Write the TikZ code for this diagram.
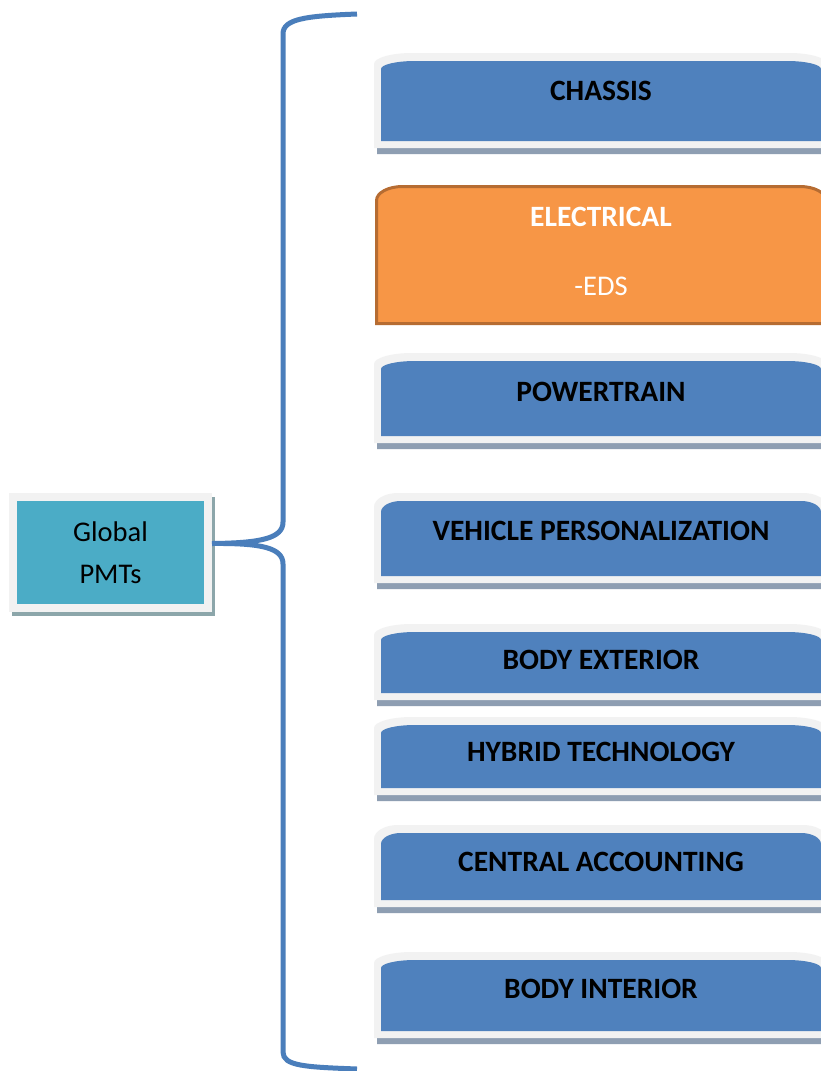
\documentclass[tikz,border=0pt]{standalone}
\usepackage{fontspec}
\setmainfont{Carlito}
\usepackage{tikz}
\usetikzlibrary{backgrounds}
\definecolor{tabblue}{RGB}{79,129,189}
\definecolor{tabframe}{RGB}{242,242,242}
\definecolor{tabshade}{RGB}{142,158,178}
\definecolor{eleorange}{RGB}{247,150,70}
\definecolor{eleedge}{RGB}{182,108,50}
\definecolor{pmtteal}{RGB}{75,172,198}
\definecolor{pmtshade}{RGB}{140,166,170}
\definecolor{bracecol}{RGB}{74,126,187}
\tikzstyle{tablabel} = [font=\fontsize{29.5}{35}\selectfont\bfseries, inner sep=0pt]
\tikzstyle{sublabel} = [font=\fontsize{28.5}{34}\selectfont, inner sep=0pt, text=white]
\tikzstyle{pmtbox} = [draw=tabframe, line width=8pt, fill=pmtteal, minimum width=195pt, minimum height=111pt, align=center, font=\fontsize{28.5}{42}\selectfont, inner sep=0pt]
\tikzstyle{elecbox} = [draw=eleedge, line width=3pt, fill=eleorange]
\tikzstyle{brace} = [draw=bracecol, line width=5pt]
% tab shape: style, left, top, right, bottom, corner x radius, corner y radius
\newcommand{\tabshape}[7]{\path[#1] (#2,{#5}) -- (#2,{#3+(#7)}) arc[start angle=180,end angle=90,x radius={(#6)*1pt},y radius={(#7)*1pt}] -- ({#4-(#6)},{#3}) arc[start angle=90,end angle=0,x radius={(#6)*1pt},y radius={(#7)*1pt}] -- (#4,{#5}) -- cycle;}

\begin{document}
\begin{tikzpicture}[x=1pt,y=-1pt]
\begin{scope}[on background layer]
\fill[white] (0,0) rectangle (821,1071);
\end{scope}
\useasboundingbox (0,0) rectangle (821,1071);

% the blue tabs
\foreach \nm/\ytop/\ybot/\ylab/\cx/\cy/\txt in {
chassis/53/141/91/34/8/CHASSIS,
powertrain/353/436/392/34/8/POWERTRAIN,
vehicle/493/576/531/20/11/VEHICLE PERSONALIZATION,
bodyext/624/693/660/34/8/BODY EXTERIOR,
hybrid/717/788/752/34/8/HYBRID TECHNOLOGY,
central/825/900/862/20/11/CENTRAL ACCOUNTING,
bodyint/952/1031/989/34/8/BODY INTERIOR}{
\tabshape{fill=tabshade}{377}{\ytop+6}{830}{\ybot+13}{\cx+4}{\cy+3}
\tabshape{fill=tabframe}{374}{\ytop}{827}{\ybot+7}{\cx+4}{\cy+3}
\tabshape{fill=tabblue}{381}{\ytop+8}{821}{\ybot}{\cx}{\cy}
\node[tablabel] (\nm) at (601,\ylab) {\txt};
}

% electrical
\tabshape{elecbox}{376.5}{186.5}{826}{323.5}{26}{14}
\node[tablabel, text=white] (electrical) at (601,217) {ELECTRICAL};
\node[sublabel] (eds) at (601,286) {-EDS};

% global PMTs
\node[pmtbox] (pmt) at (110.5,552.5) {Global\\PMTs};
\begin{scope}[on background layer]
\fill[pmtshade] ([xshift=3pt,yshift=-4pt]pmt.south west) rectangle ([xshift=3pt,yshift=-4pt]pmt.north east);
\end{scope}

% brace
\coordinate (bracetop) at (357,14);
\coordinate (bracebot) at (357,1069);
\draw[brace] (bracetop) .. controls (305,16) and (283,19) .. (283,34) -- (283,522)
  .. controls (283,538) and (262,543) .. ([yshift=9pt]pmt.east)
  .. controls (262,543) and (283,548) .. (283,564) -- (283,1052)
  .. controls (283,1066) and (305,1067) .. (bracebot);
\end{tikzpicture}
\end{document}
